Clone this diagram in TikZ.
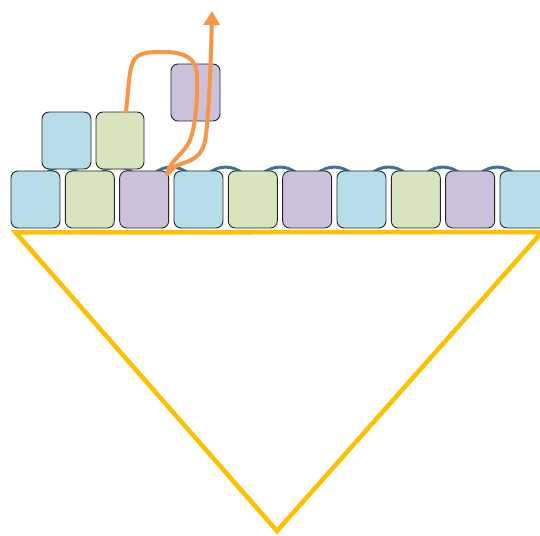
\documentclass[tikz,border=0pt]{standalone}
\usetikzlibrary{arrows.meta,backgrounds}

\definecolor{cellblue}{HTML}{B7DDE8}
\definecolor{cellgreen}{HTML}{D7E4BD}
\definecolor{cellpurple}{HTML}{CCC1DA}
\definecolor{linkblue}{HTML}{41719C}
\definecolor{pathorange}{HTML}{F79646}
\definecolor{baseyellow}{HTML}{FFC000}

\begin{document}
\begin{tikzpicture}[x=1pt, y=-1pt, >={Triangle[length=14pt, width=16pt]}]

    %styles
    \tikzstyle{cell}=[rectangle, rounded corners=7pt, draw=black!85, line width=0.9pt, minimum width=49pt, minimum height=57pt, inner sep=0pt]
    \tikzstyle{link}=[draw=linkblue, line width=3pt]
    \tikzstyle{walk}=[draw=pathorange, line width=4pt, line cap=round, line join=round]
    \tikzstyle{base}=[draw=baseyellow, line width=4.5pt, line join=miter]

    \useasboundingbox (0,0) rectangle (540,535);
    \clip (0,0) rectangle (540,535);

    % bottom row
    \foreach \i/\c in {1/cellblue, 2/cellgreen, 3/cellpurple, 4/cellblue, 5/cellgreen,
                       6/cellpurple, 7/cellblue, 8/cellgreen, 9/cellpurple, 10/cellblue}
        \node[cell, fill=\c] (b\i) at ({35.5+(\i-1)*54.33}, 199.5) {};

    % links between neighbours
    \begin{scope}[on background layer]
        \foreach \i [evaluate=\i as \j using int(\i+1)] in {1,...,9}
            \draw[link] ([xshift=-15pt, yshift=-3pt]b\i.north east) to[bend left=40] ([xshift=15pt, yshift=-3pt]b\j.north west);
    \end{scope}

    % upper cells
    \node[cell, fill=cellblue] (t1) at (66.5, 140.5) {};
    \node[cell, fill=cellgreen, minimum width=48pt] (t2) at (120, 140.5) {};
    \node[cell, fill=cellpurple] (f) at (195.5, 92.5) {};

    % base
    \coordinate (bl) at ([xshift=5pt, yshift=-4pt]b1.south west);
    \coordinate (br) at (542, 232);
    \coordinate (apex) at (277, 531);
    \draw[base] (bl) -- (br) -- (apex) -- cycle;

    % path of the moved cell
    \coordinate (tip) at (212, 11);
    \coordinate (turn) at (167, 174);
    \draw[walk, ->] ([xshift=6pt]t2.north)
        .. controls (129, 85) and (129, 70) .. (133, 62)
        .. controls (137, 52) and (150, 52) .. (163, 52)
        .. controls (185, 52) and (196, 58) .. (197, 75)
        .. controls (198, 95) and (196, 125) .. (190, 140)
        .. controls (185, 153) and (170, 160) .. (turn)
        -- (176, 166)
        .. controls (190, 160) and (203, 160) .. (206, 135)
        .. controls (209, 110) and (211, 60) .. (tip);
\end{tikzpicture}
\end{document}
